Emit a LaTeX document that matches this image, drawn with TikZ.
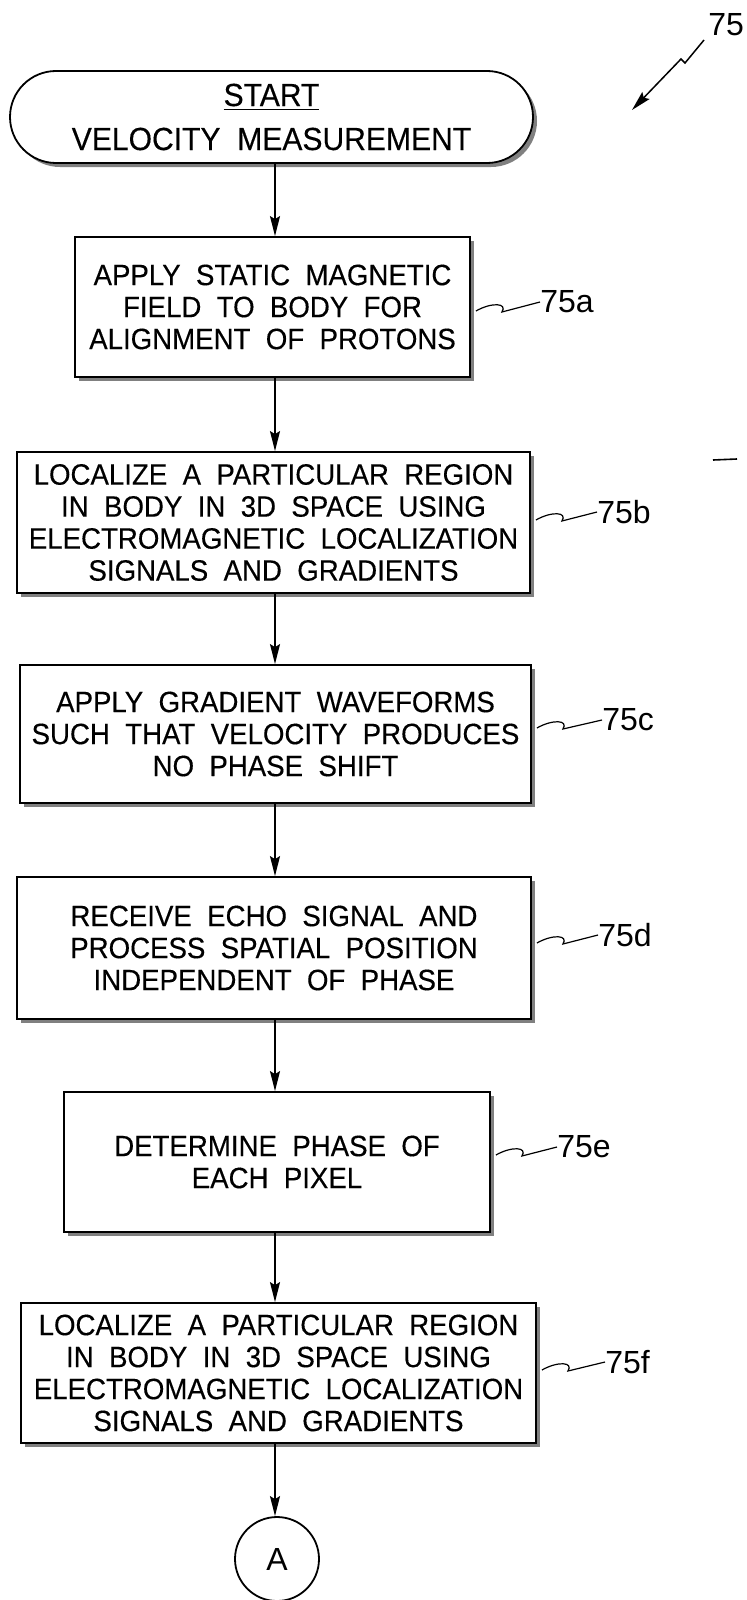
\documentclass[tikz,border=0pt]{standalone}
\usepackage{fontspec}
\setmainfont{Liberation Sans}[FakeStretch=0.94, WordSpace=2, FakeBold=0.3]
\newfontfamily\reffont{Liberation Sans}
\usetikzlibrary{arrows.meta,shapes.misc,shadows,calc}

\tikzstyle{Step} = [draw,
                    rectangle,
                    fill=white,
                    line width=0.9pt,
                    inner sep=0pt,
                    align=center,
                    font=\fontsize{14.7}{16}\selectfont,
                    drop shadow={opacity=1, shadow xshift=2pt, shadow yshift=-2pt}]
\tikzstyle{Ref} = [anchor=west, inner sep=0pt, font=\reffont\fontsize{16}{18}\selectfont]
\tikzstyle{Flow} = [-{Stealth[length=10pt, width=5pt, inset=1.5pt]}, line width=0.75pt]
\tikzstyle{Squig} = [line width=0.6pt]

\begin{document}
\begin{tikzpicture}[x=0.5pt, y=-0.5pt]

    \useasboundingbox (0,0) rectangle (747,1600);
    \coordinate (spine) at (275,0);

    % Figure number
    \node[Ref] (fig) at (708,25) {75};
    \coordinate (figtip) at (632,110);
    \draw[Flow] (704,40) -- (685,63) -- (681,59) -- (figtip);

    % Start
    \node (start) at (271.5,117) [Step, rounded rectangle, minimum width=261.5pt, minimum height=46pt,
        font=\fontsize{16}{17}\selectfont]
        {\underline{START}\\[5pt]VELOCITY MEASUREMENT};

    % Steps
    \node (align) at (272.5,307) [Step, minimum width=197.5pt, minimum height=70pt]
        {APPLY STATIC MAGNETIC\\FIELD TO BODY FOR\\ALIGNMENT OF PROTONS};
    \node (locone) at (273.5,522.5) [Step, minimum width=256.5pt, minimum height=70.5pt]
        {LOCALIZE A PARTICULAR REGION\\IN BODY IN 3D SPACE USING\\ELECTROMAGNETIC LOCALIZATION\\SIGNALS AND GRADIENTS};
    \node (grad) at (275.5,734) [Step, minimum width=255.5pt, minimum height=69pt]
        {APPLY GRADIENT WAVEFORMS\\SUCH THAT VELOCITY PRODUCES\\NO PHASE SHIFT};
    \node (echo) at (274,948) [Step, minimum width=257pt, minimum height=71pt]
        {RECEIVE ECHO SIGNAL AND\\PROCESS SPATIAL POSITION\\INDEPENDENT OF PHASE};
    \node (phase) at (277,1162) [Step, minimum width=213pt, minimum height=70pt]
        {DETERMINE PHASE OF\\EACH PIXEL};
    \node (loctwo) at (278.5,1373) [Step, minimum width=257.5pt, minimum height=70pt]
        {LOCALIZE A PARTICULAR REGION\\IN BODY IN 3D SPACE USING\\ELECTROMAGNETIC LOCALIZATION\\SIGNALS AND GRADIENTS};

    % Off-page connector
    \node (conn) at (277,1559) [draw, circle, line width=0.9pt, minimum size=42pt, inner sep=0pt,
        font=\reffont\fontsize{16}{18}\selectfont] {A};

    % Reference labels
    \node[Ref] (la) at (540,302) {75a};
    \node[Ref] (lb) at (597,512) {75b};
    \node[Ref] (lc) at (602,720) {75c};
    \node[Ref] (ld) at (598,935) {75d};
    \node[Ref] (le) at (557,1147) {75e};
    \node[Ref] (lf) at (605,1362) {75f};

    % Lines
    \draw[Flow] (spine |- start.south) -- (spine |- align.north);
    \draw[Flow] (spine |- align.south) -- (spine |- locone.north);
    \draw[Flow] (spine |- locone.south) -- (spine |- grad.north);
    \draw[Flow] (spine |- grad.south) -- (spine |- echo.north);
    \draw[Flow] (spine |- echo.south) -- (spine |- phase.north);
    \draw[Flow] (spine |- phase.south) -- (spine |- loctwo.north);
    \draw[Flow] (spine |- loctwo.south) -- (spine |- conn.north);

    % Leaders
    \draw[Squig] ($(align.east |- la.west)+(5,9)$) .. controls +(16,-9) and +(6,-9) .. +(26,1) -- (la.west);
    \draw[Squig] ($(locone.east |- lb.west)+(5,8)$) .. controls +(16,-9) and +(6,-9) .. +(26,1) -- (lb.west);
    \draw[Squig] ($(grad.east |- lc.west)+(5,8)$) .. controls +(16,-9) and +(6,-9) .. +(26,1) -- (lc.west);
    \draw[Squig] ($(echo.east |- ld.west)+(5,8)$) .. controls +(16,-9) and +(6,-9) .. +(26,1) -- (ld.west);
    \draw[Squig] ($(phase.east |- le.west)+(5,8)$) .. controls +(16,-9) and +(6,-9) .. +(26,1) -- (le.west);
    \draw[Squig] ($(loctwo.east |- lf.west)+(5,8)$) .. controls +(16,-9) and +(6,-9) .. +(26,1) -- (lf.west);

    % stray mark
    \draw[line width=0.8pt] (713,460) -- (737,459);

\end{tikzpicture}
\end{document}
